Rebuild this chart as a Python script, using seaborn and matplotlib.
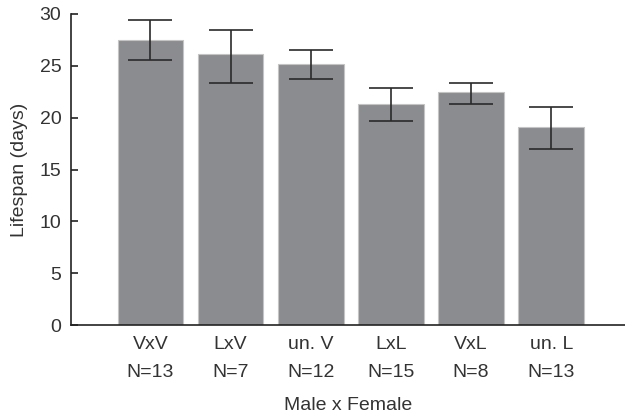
import matplotlib
matplotlib.use("Agg")
import matplotlib.pyplot as plt
import seaborn as sns
import pandas as pd
import numpy as np

groups = ["VxV", "LxV", "un. V", "LxL", "VxL", "un. L"]
counts = [13, 7, 12, 15, 8, 13]
means = [27.45, 26.1, 25.2, 21.35, 22.47, 19.1]
err_top = [29.4, 28.5, 26.5, 22.9, 23.37, 21.05]
err_bottom = [25.55, 23.3, 23.75, 19.7, 21.28, 17.0]

labels = [f"{g}\nN={n}" for g, n in zip(groups, counts)]
df = pd.DataFrame({"label": labels, "lifespan": means})

sns.set_style("white")
plt.rcParams["font.family"] = ["Liberation Sans", "DejaVu Sans"]
text_color = "#333333"
fs = 14

fig = plt.figure(figsize=(6.25, 4.17), dpi=100)
ax = fig.add_axes([71 / 625, 1 - 325 / 417, 1 - 71 / 625, (325 - 14) / 417])

sns.barplot(data=df, x="label", y="lifespan", color="#8b8c90", saturation=1,
            errorbar=None, width=0.82, edgecolor="#c4c4c4", linewidth=0.8, ax=ax)

m = np.array(means)
yerr = [m - np.array(err_bottom), np.array(err_top) - m]
ax.errorbar(np.arange(len(groups)), m, yerr=yerr, fmt="none", ecolor="#2a2a2a",
            elinewidth=1.2, capsize=16, capthick=1.2)

ax.set_ylim(0, 30)
ax.set_xlim(-0.99, 5.92)
ax.set_yticks([0, 5, 10, 15, 20, 25, 30])
ax.tick_params(axis="y", left=True, direction="in", length=5, width=1.2, colors="#222222",
               labelcolor=text_color, labelsize=fs, pad=7)
ax.tick_params(axis="x", bottom=False, length=0, labelcolor=text_color, labelsize=fs, pad=8)
for t in ax.get_xticklabels():
    t.set_linespacing(1.87)
ax.set_xlabel("Male x Female", fontsize=fs, color=text_color, labelpad=11)
ax.set_ylabel("Lifespan (days)", fontsize=fs, color=text_color, labelpad=8)

for s in ["top", "right"]:
    ax.spines[s].set_visible(False)
for s in ["left", "bottom"]:
    ax.spines[s].set_color("#222222")
    ax.spines[s].set_linewidth(1.2)

fig.savefig("out.png", dpi=100)
